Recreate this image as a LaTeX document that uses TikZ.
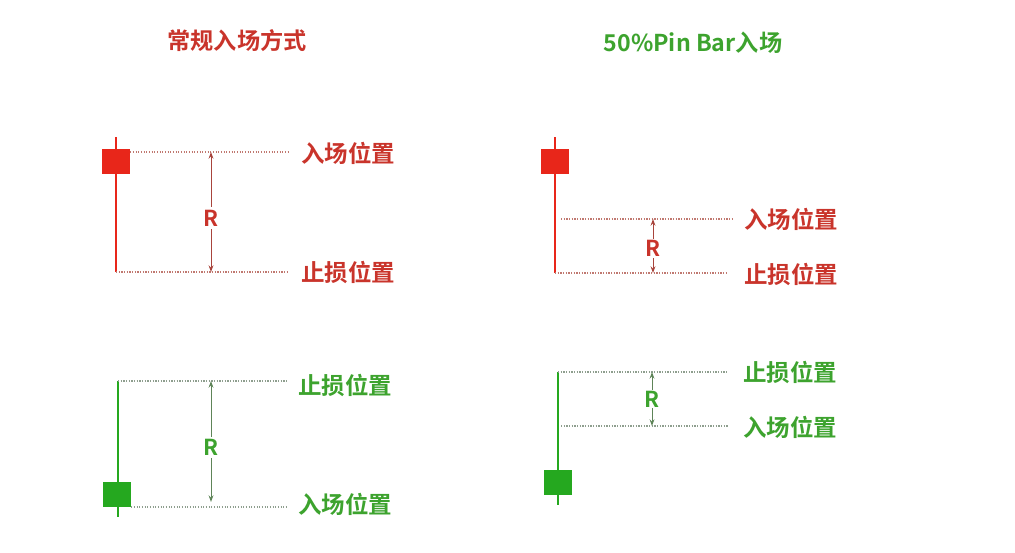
\documentclass[tikz,border=0pt]{standalone}
\usepackage{fontspec}
\setmainfont{Noto Sans CJK SC}[BoldFont={Noto Sans CJK SC Bold}]
\usetikzlibrary{arrows.meta}
\definecolor{rbox}{HTML}{E8261A}
\definecolor{rtxt}{HTML}{C9342B}
\definecolor{rline}{HTML}{C07870}
\definecolor{rarr}{HTML}{A8443C}
\definecolor{gbox}{HTML}{25A81F}
\definecolor{gtxt}{HTML}{3DA32E}
\definecolor{gline}{HTML}{8E9E8E}
\definecolor{garr}{HTML}{5E8458}
\tikzset{
  lbl/.style={font=\bfseries\fontsize{17.6}{17.6}\selectfont, inner sep=0pt, anchor=west},
  ttl/.style={font=\bfseries\fontsize{17.4}{17.4}\selectfont, inner sep=0pt},
  rlab/.style={font=\bfseries\fontsize{16.5}{16.5}\selectfont, fill=white, inner sep=2pt},
  wick/.style={line width=1.6pt},
  body/.style={draw=none, minimum width=21pt, minimum height=19pt, inner sep=0pt},
  lev/.style={line width=0.8pt, dash pattern=on 0.9pt off 1.1pt},
  meas/.style={line width=0.75pt, {Stealth[length=5pt,width=3.6pt]}-{Stealth[length=5pt,width=3.6pt]}},
}
\begin{document}
\begin{tikzpicture}[x=0.75pt, y=-0.75pt]
\useasboundingbox (0,0) rectangle (1015,553);
% titles
\node[ttl, text=rtxt] (t1) at (237,41) {常规入场方式};
\node[ttl, text=gtxt] (t2) at (693,43) {50\%Pin Bar入场};

% ---- top-left (red, regular)
\coordinate (a1) at (116,137);
\coordinate (a2) at (116,272);
\draw[wick, rbox] (a1) -- (a2);
\node[body, fill=rbox] (b1) at (116,161.5) {};
\coordinate (a3) at (288,152);
\coordinate (a4) at (288,272);
\draw[lev, rline] (b1.east |- a3) -- (a3);
\draw[lev, rline] (a2) -- (a4);
\coordinate (m1) at (211,152);
\coordinate (m2) at (211,272);
\draw[meas, rarr] (m1) -- (m2) node[rlab, text=rtxt, pos=0.55] (r1) {R};
\node[lbl, text=rtxt] (l1) at (301,153) {入场位置};
\node[lbl, text=rtxt] (l2) at (301,272) {止损位置};

% ---- top-right (red, 50% pin bar)
\coordinate (c1) at (555,137);
\coordinate (c2) at (555,273);
\draw[wick, rbox] (c1) -- (c2);
\node[body, fill=rbox] (b2) at (555,161.5) {};
\coordinate (c3) at (561,219);
\coordinate (c4) at (732,219);
\coordinate (c5) at (728,273);
\draw[lev, rline] (c3) -- (c4);
\draw[lev, rline] (c2) -- (c5);
\coordinate (n1) at (653,219);
\coordinate (n2) at (653,273);
\draw[meas, rarr] (n1) -- (n2) node[rlab, text=rtxt, pos=0.55, inner sep=1pt] (r2) {R};
\node[lbl, text=rtxt] (l3) at (744,219) {入场位置};
\node[lbl, text=rtxt] (l4) at (744,274) {止损位置};

% ---- bottom-left (green, regular)
\coordinate (d1) at (118,381);
\coordinate (d2) at (118,517);
\draw[wick, gbox] (d1) -- (d2);
\node[body, fill=gbox] (b3) at (117,494.5) {};
\coordinate (d3) at (288,381);
\coordinate (d4) at (288,507);
\draw[lev, gline] (d1) -- (d3);
\draw[lev, gline] (b3.east |- d4) -- (d4);
\coordinate (o1) at (211,381);
\coordinate (o2) at (211,502);
\draw[meas, garr] (o1) -- (o2) node[rlab, text=gtxt, pos=0.55] (r3) {R};
\node[lbl, text=gtxt] (l5) at (298,385) {止损位置};
\node[lbl, text=gtxt] (l6) at (298,504) {入场位置};

% ---- bottom-right (green, 50% pin bar)
\coordinate (e1) at (558,372);
\coordinate (e2) at (558,505);
\draw[wick, gbox] (e1) -- (e2);
\node[body, fill=gbox] (b4) at (558,482.5) {};
\coordinate (e3) at (728,372);
\coordinate (e4) at (561,426);
\coordinate (e5) at (728,426);
\draw[lev, gline] (e1) -- (e3);
\draw[lev, gline] (e4) -- (e5);
\coordinate (p1) at (652,372);
\coordinate (p2) at (652,426);
\draw[meas, garr] (p1) -- (p2) node[rlab, text=gtxt, pos=0.5, inner sep=1pt] (r4) {R};
\node[lbl, text=gtxt] (l7) at (743,372) {止损位置};
\node[lbl, text=gtxt] (l8) at (743,427) {入场位置};
\end{tikzpicture}
\end{document}
